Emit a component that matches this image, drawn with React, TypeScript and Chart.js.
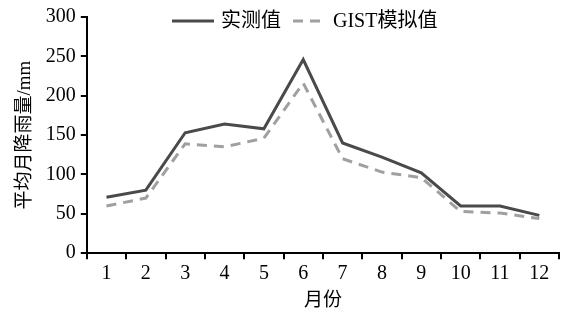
import React, { useEffect, useRef } from "react";
import { Chart, registerables } from "chart.js";

Chart.register(...registerables);

const months = ["1", "2", "3", "4", "5", "6", "7", "8", "9", "10", "11", "12"];
const observed = [71, 80, 153, 164, 158, 246, 140, 122, 102, 60, 60, 48];
const simulated = [60, 70, 139, 135, 146, 216, 120, 103, 96, 53, 51, 44];
const seriesNames = ["实测值", "GIST模拟值"];
const yTitle = "平均月降雨量/mm";
const xTitle = "月份";

const FONT = "'Liberation Serif', 'DejaVu Serif', 'Noto Sans CJK SC', serif";

const legendPlugin = {
  id: "topLegend",
  afterDraw(chart: any) {
    const ctx = chart.ctx;
    const items = [
      { x: 172, lineW: 42, gap: 7 },
      { x: 293, lineW: 33, gap: 7 },
    ];
    ctx.save();
    ctx.font = `20px ${FONT}`;
    ctx.textBaseline = "middle";
    ctx.fillStyle = "#000";
    chart.data.datasets.forEach((ds: any, i: number) => {
      const it = items[i];
      const y = 21;
      ctx.strokeStyle = ds.borderColor;
      ctx.lineWidth = ds.borderWidth;
      ctx.setLineDash(ds.borderDash || []);
      ctx.beginPath();
      ctx.moveTo(it.x, y);
      ctx.lineTo(it.x + it.lineW, y);
      ctx.stroke();
      ctx.setLineDash([]);
      ctx.fillText(ds.label, it.x + it.lineW + it.gap, y + 1);
    });
    ctx.restore();
  },
};

export default function App() {
  const ref = useRef<HTMLCanvasElement | null>(null);
  useEffect(() => {
    if (!ref.current) return;
    const chart = new Chart(ref.current, {
      type: "line",
      data: {
        labels: months,
        datasets: [
          {
            label: seriesNames[0],
            data: observed,
            borderColor: "#4a4a4a",
            borderWidth: 3,
            pointRadius: 0,
            tension: 0,
            fill: false,
          },
          {
            label: seriesNames[1],
            data: simulated,
            borderColor: "#a0a0a0",
            borderWidth: 3,
            borderDash: [10, 7],
            pointRadius: 0,
            tension: 0,
            fill: false,
          },
        ],
      },
      options: {
        animation: false,
        responsive: false,
        maintainAspectRatio: false,
        layout: { padding: { left: 14, right: 11, top: 6, bottom: 0 } },
        plugins: {
          legend: { display: false },
          tooltip: { enabled: false },
        },
        scales: {
          x: {
            offset: true,
            grid: {
              offset: true,
              drawOnChartArea: false,
              drawTicks: true,
              tickLength: 6,
              color: "#000",
              lineWidth: 2,
            },
            border: { color: "#000", width: 2 },
            ticks: { color: "#000", font: { family: FONT, size: 20 }, padding: 3 },
            title: {
              display: true,
              text: xTitle,
              color: "#000",
              font: { family: FONT, size: 19 },
              padding: { top: 0, bottom: 0 },
            },
          },
          y: {
            min: 0,
            max: 300,
            ticks: { stepSize: 50, color: "#000", font: { family: FONT, size: 20 }, padding: 5 },
            grid: {
              drawOnChartArea: false,
              drawTicks: true,
              tickLength: 6,
              color: "#000",
              lineWidth: 2,
            },
            border: { color: "#000", width: 2 },
            title: {
              display: true,
              text: yTitle,
              color: "#000",
              font: { family: FONT, size: 19 },
              padding: { top: 0, bottom: 4 },
            },
          },
        },
      },
      plugins: [legendPlugin],
    });
    return () => chart.destroy();
  }, []);
  return (
    <div style={{ position: "fixed", left: 0, top: 0, width: 570, height: 312, background: "#fff" }}>
      <canvas ref={ref} width={570} height={312} style={{ width: 570, height: 312 }} />
    </div>
  );
}
